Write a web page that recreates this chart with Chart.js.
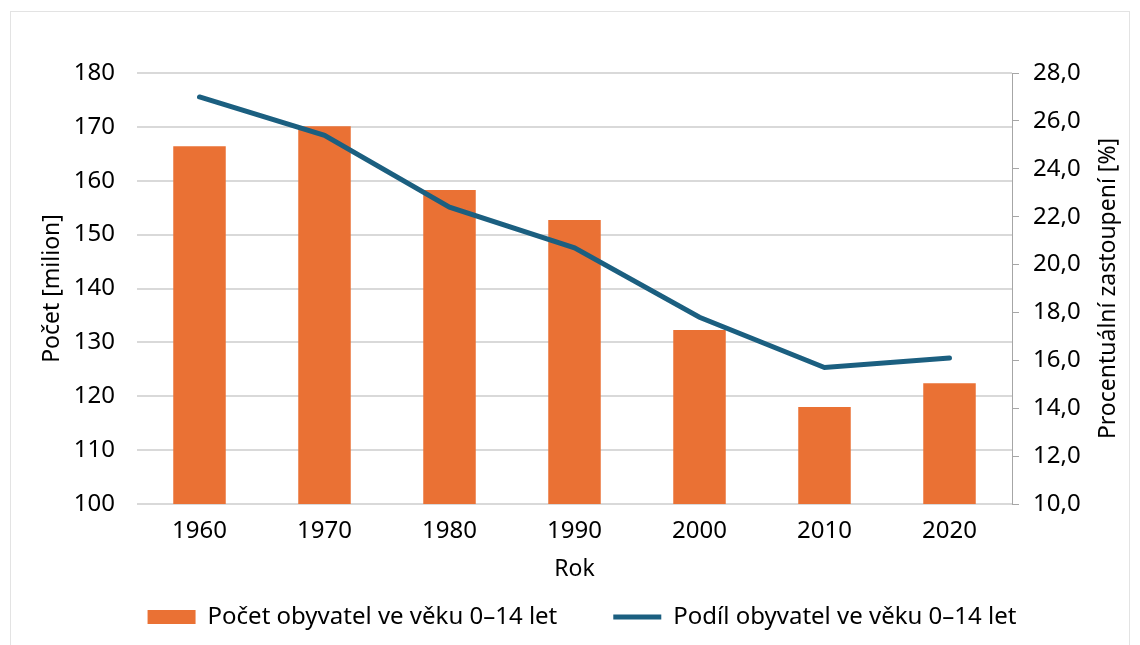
<!DOCTYPE html>
<html>
<head>
<meta charset="utf-8">
<script src="https://cdn.jsdelivr.net/npm/chart.js@4"></script>
<style>
  html, body { margin: 0; padding: 0; background: #fff; }
  #wrap { width: 1140px; height: 645px; position: relative; }
</style>
</head>
<body>
<div id="wrap"><canvas id="myComboChart" width="1140" height="645"></canvas></div>
<script>
const years = ["1960", "1970", "1980", "1990", "2000", "2010", "2020"];
const countValues = [166.4, 170.1, 158.3, 152.7, 132.3, 118.0, 122.4];
const shareValues = [27.0, 25.4, 22.4, 20.7, 17.8, 15.7, 16.1];

const ORANGE = "#EA7134";
const BLUE = "#1B5F80";
const FONT = "'Noto Sans', 'Open Sans', sans-serif";

Chart.defaults.font.family = FONT;
Chart.defaults.font.size = 24;
Chart.defaults.color = "#000";

// light frame round the whole chart
const framePlugin = {
  id: "frame",
  beforeDraw(chart) {
    const c = chart.ctx;
    c.save();
    c.strokeStyle = "#e3e3e3";
    c.lineWidth = 1;
    c.strokeRect(10.5, 11.5, 1119, 640);
    c.restore();
  },
};

// axis titles, both y titles read bottom to top
const titlesPlugin = {
  id: "axisTitles",
  afterDraw(chart) {
    const c = chart.ctx;
    const a = chart.chartArea;
    const midY = (a.top + a.bottom) / 2;
    c.save();
    c.fillStyle = "#000";
    c.textAlign = "center";
    c.textBaseline = "middle";
    c.font = "23px " + FONT;
    c.fillText("Rok", (a.left + a.right) / 2, 569);
    [["Počet [milion]", 52], ["Procentuální zastoupení [%]", 1108]].forEach(([txt, x]) => {
      c.save();
      c.translate(x, midY);
      c.rotate(-Math.PI / 2);
      c.fillText(txt, 0, 0);
      c.restore();
    });
    c.restore();
  },
};

const ctx = document.getElementById("myComboChart").getContext("2d");
const graph = new Chart(ctx, {
  data: {
    labels: years,
    datasets: [
      {
        type: "line",
        label: "Podíl obyvatel ve věku 0–14 let",
        data: shareValues,
        yAxisID: "yRight",
        borderColor: BLUE,
        backgroundColor: BLUE,
        borderWidth: 5,
        borderCapStyle: "round",
        pointRadius: 0,
        pointStyle: "line",
        tension: 0,
        order: 0,
      },
      {
        type: "bar",
        label: "Počet obyvatel ve věku 0–14 let",
        data: countValues,
        yAxisID: "yLeft",
        backgroundColor: ORANGE,
        pointStyle: "rect",
        categoryPercentage: 1,
        barPercentage: 0.42,
        order: 1,
      },
    ],
  },
  options: {
    responsive: false,
    animation: false,
    layout: { padding: { top: 73, bottom: 6, left: 24, right: 0 } },
    plugins: {
      legend: {
        position: "bottom",
        reverse: true,
        labels: {
          usePointStyle: true,
          pointStyleWidth: 48,
          boxWidth: 48,
          boxHeight: 14,
          padding: 56,
          font: { size: 24 },
          color: "#000",
        },
      },
      tooltip: { enabled: false },
    },
    scales: {
      x: {
        grid: { display: false, drawTicks: false },
        border: { display: false },
        ticks: { padding: 13 },
        afterFit(scale) { scale.height = 45; },
      },
      yLeft: {
        position: "left",
        min: 100,
        max: 180,
        ticks: { stepSize: 10, padding: 22 },
        grid: { color: "#d9d9d9", lineWidth: 2, drawTicks: false },
        border: { display: false },
        afterFit(scale) { scale.width = 113; },
      },
      yRight: {
        position: "right",
        min: 10,
        max: 28,
        ticks: {
          stepSize: 2,
          padding: 14,
          callback: (v) => v.toFixed(1).replace(".", ","),
        },
        grid: { drawOnChartArea: false, color: "#a6a6a6", tickLength: 7 },
        border: { display: true, color: "#a6a6a6" },
        afterFit(scale) { scale.width = 128; },
      },
    },
  },
  plugins: [framePlugin, titlesPlugin],
});
</script>
</body>
</html>
